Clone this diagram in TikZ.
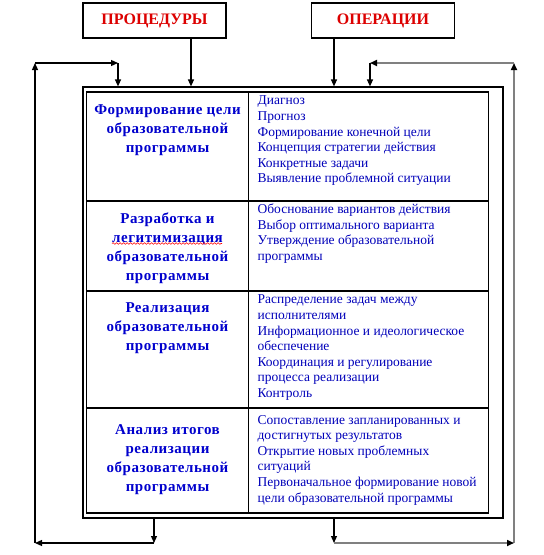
\documentclass[tikz,border=0pt]{standalone}
\usepackage{fontspec}
\setmainfont{Liberation Serif}
\newfontfamily\procfont[LetterSpace=3.5]{Liberation Serif}
\usetikzlibrary{arrows.meta, positioning, decorations.pathmorphing}

\definecolor{titlered}{RGB}{220,0,0}
\definecolor{procblue}{RGB}{0,0,205}
\definecolor{operblue}{RGB}{0,0,185}
\definecolor{loopgray}{RGB}{128,128,128}

\begin{document}
\begin{tikzpicture}[x=1pt, y=-1pt, line width=1.2pt,
  title/.style={draw, minimum width=143pt, minimum height=35pt, inner sep=0pt,
    text=titlered, font=\fontsize{16}{18}\selectfont\bfseries},
  frame/.style={draw, inner sep=0pt},
  proc/.style={anchor=north, align=center, inner sep=0pt, text=procblue,
    font=\procfont\fontsize{15}{19}\selectfont\bfseries},
  oper/.style={anchor=north west, align=left, inner sep=0pt, text=operblue,
    font=\fontsize{13.5}{15.6}\selectfont},
  arr/.style={-{Triangle[length=7pt,width=6pt]}},
  garr/.style={loopgray, line width=1.6pt, -{Triangle[length=7pt,width=6pt,black]}}]

\useasboundingbox (0,0) rectangle (544,555);

\node[title] (procs) at (154.5,20.5) {ПРОЦЕДУРЫ};
\node[title] (opers) at (383,20.5) {ОПЕРАЦИИ};

\node[frame, minimum width=420pt, minimum height=431pt] (outer) at (293,302.5) {};
\node[frame, minimum width=402pt, minimum height=421pt] (table) at (287.5,302.5) {};
\draw ([xshift=162.5pt]table.north west) -- ([xshift=162.5pt]table.south west);
\foreach \y in {201,291,408}
  \draw (table.west |- 0,\y) -- (table.east |- 0,\y);

\node[proc] (p1) at (167.5,104.5) {Формирование цели\\образовательной\\программы};
\node[proc] (p2) at (167.5,212.5) {Разработка и\\легитимизация\\образовательной\\программы};
\node[proc] (p3) at (167.5,302.5) {Реализация\\образовательной\\программы};
\node[proc] (p4) at (167.5,423.5) {Анализ итогов\\реализации\\образовательной\\программы};

\draw[red, line width=0.6pt, decorate, decoration={snake, amplitude=0.8pt, segment length=3.5pt}]
  (112,243.5) -- (222,243.5);

\node[oper] (o1) at (257,95.5) {Диагноз\\Прогноз\\Формирование конечной цели\\Концепция стратегии действия\\Конкретные задачи\\Выявление проблемной ситуации};
\node[oper] (o2) at (257,203.5) {Обоснование вариантов действия\\Выбор оптимального варианта\\Утверждение образовательной\\программы};
\node[oper] (o3) at (257,294.5) {Распределение задач между\\исполнителями\\Информационное и идеологическое\\обеспечение\\Координация и регулирование\\процесса реализации\\Контроль};
\node[oper] (o4) at (257,414.5) {Сопоставление запланированных и\\достигнутых результатов\\Открытие новых проблемных\\ситуаций\\Первоначальное формирование новой\\цели образовательной программы};

\coordinate (pdown) at ([xshift=36.5pt]procs.south);
\coordinate (odown) at ([xshift=-49pt]opers.south);
\draw[arr] (pdown) -- (pdown |- outer.north);
\draw[arr] (odown) -- (odown |- outer.north);

\coordinate (ltop) at (35,63);
\coordinate (lbot) at (35,543);
\coordinate (lturn) at (118,63);
\coordinate (lout) at (154,543);
\draw[arr] (lbot) -- (ltop);
\draw[arr] (ltop) -- (lturn);
\draw[arr] (lturn) -- (lturn |- outer.north);
\draw[arr] (lout |- outer.south) -- (lout);
\draw[arr] (lout) -- (lbot);

\coordinate (rtop) at (514,63);
\coordinate (rbot) at (514,543);
\coordinate (rturn) at (370,63);
\coordinate (rout) at (334,543);
\draw[garr] (rbot) -- (rtop);
\draw[garr] (rtop) -- (rturn);
\draw[arr] (rturn) -- (rturn |- outer.north);
\draw[arr] (rout |- outer.south) -- (rout);
\draw[garr] (rout) -- (rbot);

\end{tikzpicture}
\end{document}
